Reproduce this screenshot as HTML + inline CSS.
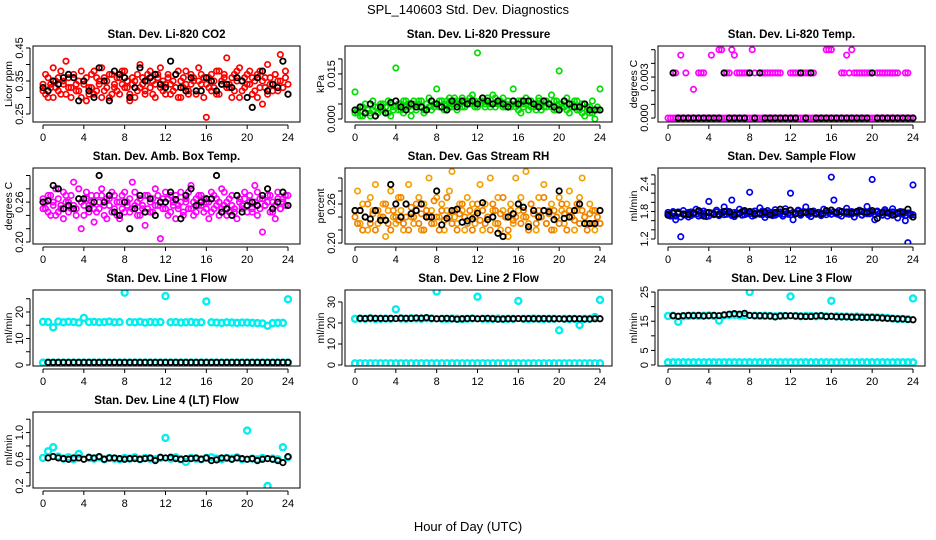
<!DOCTYPE html>
<html><head><meta charset="utf-8"><style>
html,body{margin:0;padding:0;background:#fff;}
svg{display:block;font-family:"Liberation Sans",sans-serif;}
</style></head><body>
<svg id="chart" width="936" height="540" viewBox="0 0 936 540">
<text x="468" y="14" text-anchor="middle" font-size="13">SPL_140603  Std. Dev. Diagnostics</text>
<text x="468" y="531" text-anchor="middle" font-size="13">Hour of Day (UTC)</text>
</svg>
<script>
const xTicks=[0,4,8,12,16,20,24];
const co2=[0.32,0.37,0.30,0.34,0.39,0.33,0.36,0.31,0.35,0.41,0.33,0.30,0.36,0.34,0.32,0.38,0.35,0.29,0.33,0.37,0.31,0.36,0.34,0.39,0.32,0.35,0.30,0.37,0.33,0.36,0.31,0.34,0.38,0.33,0.29,0.36,0.35,0.32,0.40,0.34,0.31,0.37,0.33,0.35,0.30,0.36,0.39,0.32,0.34,0.37,0.31,0.35,0.33,0.38,0.30,0.36,0.34,0.32,0.37,0.35,0.31,0.39,0.34,0.36,0.24,0.33,0.37,0.35,0.31,0.38,0.34,0.36,0.42,0.33,0.30,0.37,0.35,0.39,0.32,0.36,0.34,0.38,0.31,0.35,0.37,0.33,0.28,0.36,0.40,0.34,0.32,0.37,0.35,0.43,0.33,0.38,0.31];
const co2B=[0.34,0.31,0.36,0.33,0.30,0.35,0.32,0.38,0.34,0.31,0.36,0.33,0.37,0.32,0.35,0.30,0.34,0.36,0.31,0.33,0.38,0.32,0.35,0.30,0.36,0.33,0.37,0.31,0.34,0.32,0.36,0.38,0.33,0.35,0.31,0.34,0.30,0.37,0.33,0.36,0.32,0.35,0.38,0.31,0.34,0.37,0.33,0.35,0.31,0.36,0.34,0.32,0.37,0.30,0.35,0.33,0.38,0.31,0.34,0.36,0.32,0.35,0.37,0.30,0.34,0.36,0.32,0.33,0.38,0.31,0.35,0.37,0.33,0.34,0.36,0.32,0.38,0.30,0.35,0.33,0.37,0.34,0.36,0.32,0.30,0.38,0.35,0.33,0.31,0.36,0.34,0.37,0.32,0.35,0.33,0.36,0.34];
const co2Ref=[0.33,0.32,0.35,0.34,0.36,0.37,0.36,0.29,0.35,0.32,0.30,0.39,0.35,0.29,0.38,0.37,0.36,0.30,0.33,0.39,0.35,0.36,0.37,0.34,0.33,0.41,0.37,0.33,0.32,0.36,0.32,0.32,0.36,0.35,0.32,0.34,0.34,0.33,0.36,0.35,0.30,0.27,0.36,0.38,0.32,0.34,0.33,0.41,0.31];
const pressure=[0.009,0.002,0.004,0.001,0.005,0.003,0.002,0.006,0.001,0.004,0.003,0.005,0.002,0.006,0.001,0.004,0.017,0.003,0.005,0.002,0.006,0.004,0.001,0.005,0.003,0.006,0.004,0.002,0.005,0.007,0.003,0.005,0.010,0.004,0.006,0.003,0.005,0.007,0.004,0.006,0.003,0.005,0.007,0.004,0.006,0.005,0.008,0.004,0.022,0.005,0.006,0.004,0.007,0.005,0.008,0.004,0.006,0.005,0.007,0.004,0.006,0.005,0.010,0.004,0.006,0.002,0.005,0.007,0.003,0.006,0.004,0.005,0.007,0.003,0.006,0.004,0.005,0.008,0.003,0.006,0.016,0.005,0.004,0.007,0.002,0.005,0.004,0.006,0.003,0.005,0.001,0.004,0.002,0.006,0.000,0.003,0.010];
const pressureB=[0.002,0.003,0.001,0.004,0.002,0.003,0.001,0.003,0.004,0.002,0.005,0.003,0.004,0.002,0.005,0.003,0.004,0.005,0.003,0.006,0.004,0.005,0.003,0.006,0.004,0.005,0.006,0.003,0.005,0.004,0.006,0.004,0.005,0.006,0.004,0.005,0.006,0.004,0.005,0.007,0.005,0.006,0.004,0.006,0.005,0.007,0.005,0.006,0.004,0.006,0.007,0.005,0.006,0.004,0.005,0.007,0.005,0.006,0.004,0.005,0.006,0.004,0.006,0.005,0.003,0.006,0.004,0.005,0.006,0.004,0.005,0.003,0.006,0.005,0.004,0.006,0.005,0.004,0.006,0.003,0.005,0.004,0.006,0.003,0.005,0.004,0.006,0.003,0.004,0.002,0.005,0.003,0.004,0.002,0.003,0.004,0.003];
const pressureRef=[0.003,0.004,0.002,0.005,0.001,0.004,0.002,0.0055,0.006,0.004,0.003,0.005,0.004,0.004,0.003,0.006,0.005,0.004,0.003,0.006,0.004,0.006,0.005,0.006,0.005,0.007,0.006,0.005,0.006,0.005,0.004,0.006,0.005,0.006,0.006,0.005,0.004,0.006,0.005,0.004,0.003,0.006,0.005,0.004,0.004,0.005,0.003,0.003,0.003];
const tempHi=[null,null,.0033,.0033,null,.0046,null,.0033,null,null,.0021,null,.0033,.0033,.0033,null,null,.0046,null,null,.005,.005,.0033,.0033,.0033,.005,.0046,.0033,.0033,.0033,.0033,.0033,.0033,.005,.0033,null,.0033,.0033,.0033,.0033,.0033,.0033,.0033,.0033,.0033,null,null,null,.0033,.0033,.0033,.0033,.0033,.0033,.0033,.0033,.0033,.0033,null,null,null,null,.005,.005,.005,null,null,null,.0033,.0033,.0046,.0033,.005,.0033,.0033,.0033,.0033,.0033,.0033,.0033,.0033,null,.0033,.0033,.0033,.0033,.0033,.0033,.0033,.0033,.0033,null,null,.0033,.0033,null,null];
const tempLo=[0,0,0,0,0,0,0,0,0,0,0,0,0,0,0,0,0,0,0,0,0,0,0,0,0,0,0,0,0,0,0,0,0,0,0,0,0,0,0,0,0,0,0,0,0,0,0,0,0,0,0,0,0,0,0,0,0,0,0,0,0,0,0,0,0,0,0,0,0,0,0,0,0,0,0,0,0,0,0,0,0,0,0,0,0,0,0,0,0,0,0,0,0,0,0,0,0];
const tempRef=[null,.0033,0,0,0,0,0,0,0,0,0,.0033,0,0,0,0,.0033,0,.0033,0,0,0,0,0,0,0,.0033,0,.0033,0,0,0,0,0,0,0,0,0,0,0,.0033,0,0,0,0,0,0,0,0];
const amb=[0.265,0.25,0.27,0.24,0.26,0.28,0.245,0.255,0.235,0.27,0.26,0.25,0.29,0.24,0.265,0.22,0.255,0.275,0.245,0.26,0.23,0.27,0.25,0.28,0.24,0.265,0.255,0.245,0.27,0.26,0.235,0.25,0.275,0.26,0.245,0.29,0.255,0.24,0.265,0.25,0.225,0.27,0.26,0.245,0.28,0.255,0.205,0.265,0.25,0.24,0.27,0.26,0.235,0.255,0.275,0.245,0.26,0.25,0.285,0.24,0.265,0.255,0.27,0.245,0.26,0.235,0.275,0.25,0.265,0.24,0.28,0.255,0.26,0.245,0.27,0.25,0.235,0.265,0.255,0.275,0.245,0.26,0.25,0.285,0.24,0.265,0.215,0.255,0.27,0.245,0.26,0.235,0.275,0.25,0.265,0.255,0.27];
const ambB=[0.25,0.26,0.245,0.27,0.255,0.24,0.265,0.25,0.275,0.26,0.245,0.27,0.255,0.25,0.28,0.26,0.24,0.265,0.255,0.27,0.25,0.245,0.26,0.27,0.255,0.235,0.265,0.275,0.25,0.24,0.26,0.27,0.245,0.255,0.265,0.25,0.275,0.26,0.24,0.255,0.27,0.25,0.245,0.265,0.255,0.27,0.26,0.25,0.275,0.265,0.245,0.255,0.27,0.25,0.26,0.24,0.265,0.275,0.25,0.26,0.245,0.27,0.255,0.265,0.25,0.26,0.245,0.27,0.255,0.26,0.25,0.275,0.24,0.265,0.255,0.245,0.27,0.26,0.25,0.265,0.255,0.27,0.245,0.26,0.275,0.25,0.265,0.255,0.26,0.27,0.245,0.255,0.265,0.25,0.26,0.27,0.255];
const ambRef=[0.26,0.262,0.285,0.28,0.25,0.255,0.25,0.265,0.265,0.25,0.26,0.30,0.26,0.27,0.245,0.24,0.26,0.22,0.25,0.27,0.245,0.265,0.24,0.26,0.26,0.275,0.264,0.235,0.27,0.28,0.255,0.26,0.265,0.265,0.30,0.245,0.25,0.24,0.27,0.245,0.255,0.26,0.255,0.27,0.28,0.25,0.26,0.275,0.255];
const rh=[0.25,0.28,0.23,0.26,0.24,0.22,0.27,0.25,0.29,0.23,0.24,0.26,0.21,0.25,0.28,0.24,0.23,0.27,0.25,0.22,0.26,0.29,0.24,0.23,0.25,0.27,0.22,0.26,0.24,0.30,0.25,0.23,0.27,0.24,0.26,0.22,0.25,0.28,0.31,0.24,0.23,0.26,0.25,0.22,0.27,0.24,0.26,0.23,0.25,0.29,0.22,0.26,0.24,0.30,0.25,0.23,0.27,0.22,0.25,0.24,0.21,0.26,0.23,0.30,0.25,0.27,0.24,0.31,0.23,0.26,0.25,0.22,0.27,0.24,0.29,0.23,0.25,0.26,0.22,0.24,0.27,0.25,0.23,0.26,0.28,0.24,0.22,0.25,0.27,0.30,0.24,0.23,0.26,0.25,0.22,0.24,0.23];
const rhB=[0.24,0.23,0.25,0.22,0.24,0.26,0.23,0.245,0.22,0.25,0.235,0.24,0.26,0.23,0.22,0.25,0.24,0.235,0.27,0.23,0.24,0.22,0.255,0.24,0.26,0.23,0.245,0.22,0.25,0.24,0.23,0.265,0.24,0.22,0.25,0.235,0.27,0.24,0.23,0.25,0.22,0.245,0.26,0.24,0.23,0.25,0.22,0.24,0.26,0.235,0.25,0.23,0.24,0.22,0.26,0.25,0.23,0.245,0.27,0.24,0.22,0.25,0.235,0.24,0.26,0.23,0.25,0.24,0.22,0.26,0.245,0.23,0.25,0.24,0.27,0.23,0.245,0.22,0.25,0.24,0.23,0.26,0.245,0.22,0.25,0.24,0.235,0.26,0.23,0.25,0.24,0.22,0.245,0.23,0.25,0.24,0.23];
const rhRef=[0.25,0.25,0.24,0.237,0.25,0.235,0.235,0.29,0.26,0.24,0.26,0.245,0.25,0.26,0.24,0.24,0.28,0.228,0.238,0.25,0.252,0.232,0.234,0.237,0.246,0.262,0.236,0.24,0.215,0.21,0.24,0.245,0.26,0.255,0.225,0.25,0.24,0.25,0.248,0.236,0.28,0.238,0.24,0.25,0.26,0.23,0.23,0.23,0.25];
const flow=[1.78,1.70,1.80,1.62,1.75,1.25,1.82,1.72,1.68,1.79,1.74,1.85,1.70,1.77,1.81,1.69,2.02,1.76,1.73,1.83,1.71,1.78,1.90,1.74,1.80,2.05,1.69,1.77,1.85,1.72,1.79,1.75,2.22,1.70,1.81,1.76,1.88,1.73,1.67,1.82,1.78,1.71,1.84,1.75,1.79,1.70,1.86,1.74,2.20,1.62,1.77,1.83,1.72,1.80,1.90,1.76,1.69,1.81,1.74,1.78,1.71,1.85,1.73,1.79,2.55,2.05,1.75,1.82,1.70,1.78,1.87,1.74,1.80,1.68,1.77,1.83,1.72,1.79,1.91,1.75,2.50,1.62,1.81,1.76,1.73,1.84,1.70,1.78,1.86,1.74,1.66,1.80,1.77,1.60,1.12,1.72,2.38];
const flowB=[1.74,1.72,1.77,1.70,1.79,1.68,1.75,1.73,1.78,1.71,1.76,1.74,1.80,1.72,1.75,1.78,1.70,1.77,1.74,1.79,1.72,1.76,1.73,1.81,1.75,1.71,1.78,1.74,1.76,1.80,1.73,1.77,1.75,1.79,1.72,1.76,1.74,1.81,1.77,1.73,1.78,1.75,1.72,1.79,1.76,1.74,1.80,1.77,1.73,1.78,1.75,1.81,1.74,1.77,1.79,1.73,1.76,1.80,1.75,1.78,1.74,1.76,1.81,1.77,1.74,1.79,1.76,1.73,1.80,1.77,1.75,1.79,1.74,1.78,1.76,1.81,1.73,1.77,1.75,1.80,1.78,1.74,1.79,1.76,1.72,1.80,1.77,1.75,1.79,1.73,1.78,1.76,1.74,1.71,1.77,1.75,1.73];
const flowRef=[1.72,1.76,1.77,1.74,1.74,1.77,1.82,1.70,1.78,1.75,1.74,1.80,1.79,1.73,1.76,1.82,1.80,1.75,1.76,1.79,1.73,1.78,1.85,1.80,1.83,1.75,1.77,1.78,1.80,1.76,1.75,1.82,1.83,1.78,1.80,1.79,1.77,1.80,1.80,1.78,1.82,1.65,1.78,1.77,1.72,1.76,1.79,1.85,1.68];
const line1Hi=[16.3,16.2,14.2,16.4,16.1,16.3,16.2,16.0,17.8,16.2,16.3,16.1,16.2,16.4,16.1,16.2,27.3,16.2,16.1,16.3,16.0,16.2,16.1,16.2,26.0,16.1,16.2,16.0,16.1,16.2,16.0,16.1,24.0,16.1,16.0,15.9,16.1,16.0,15.9,16.0,16.0,15.9,15.8,15.7,14.8,15.8,15.9,15.9,24.8];
const line1Lo=[0.9,0.9,0.9,0.9,0.9,0.9,0.9,0.9,0.9,0.9,0.9,0.9,0.9,0.9,0.9,0.9,0.9,0.9,0.9,0.9,0.9,0.9,0.9,0.9,0.9,0.9,0.9,0.9,0.9,0.9,0.9,0.9,0.9,0.9,0.9,0.9,0.9,0.9,0.9,0.9,0.9,0.9,0.9,0.9,0.9,0.9,0.9,0.9,0.9];
const line1Ref=[null,1.0,1.0,1.0,1.0,1.0,1.0,1.0,1.0,1.0,1.0,1.0,1.0,1.0,1.0,1.0,1.0,1.0,1.0,1.0,1.0,1.0,1.0,1.0,1.0,1.0,1.0,1.0,1.0,1.0,1.0,1.0,1.0,1.0,1.0,1.0,1.0,1.0,1.0,1.0,1.0,1.0,1.0,1.0,1.0,1.0,1.0,1.0,1.0];
const line2Hi=[22.0,22.1,22.0,22.2,21.9,22.0,22.1,22.0,26.5,22.1,22.0,22.2,22.1,22.0,22.3,22.1,35.0,22.0,21.9,22.1,22.0,21.8,22.0,22.1,32.5,22.0,21.9,22.0,22.1,21.9,22.0,22.0,30.5,22.0,21.9,22.1,22.0,21.9,22.0,22.0,16.5,22.0,21.9,22.0,19.0,22.0,22.0,22.8,31.0];
const line2Lo=[0.8,0.8,0.8,0.8,0.8,0.8,0.8,0.8,0.8,0.8,0.8,0.8,0.8,0.8,0.8,0.8,0.8,0.8,0.8,0.8,0.8,0.8,0.8,0.8,0.8,0.8,0.8,0.8,0.8,0.8,0.8,0.8,0.8,0.8,0.8,0.8,0.8,0.8,0.8,0.8,0.8,0.8,0.8,0.8,0.8,0.8,0.8,0.8,0.8];
const line2Ref=[null,22.2,22.1,22.3,22.2,22.2,22.1,22.2,22.1,22.3,22.2,22.2,22.4,22.3,22.5,22.2,22.0,22.1,22.2,22.0,21.8,22.0,22.1,22.2,22.0,22.1,22.2,22.0,21.8,21.9,22.0,22.0,22.1,22.0,22.1,22.0,22.0,22.1,22.0,22.0,22.0,21.9,22.0,22.0,22.0,21.9,21.9,22.0,22.0];
const line3Hi=[16.8,16.9,14.8,16.7,16.8,16.9,16.8,16.9,17.0,16.8,15.2,17.0,17.1,17.2,17.0,16.9,25.0,16.9,16.8,16.9,16.8,16.7,16.8,16.8,23.5,16.8,16.7,16.8,16.8,16.7,16.8,16.7,22.0,16.7,16.6,16.6,16.5,16.6,16.5,16.4,16.4,16.3,16.2,16.1,15.9,15.8,15.8,15.7,22.8];
const line3Lo=[0.9,0.9,0.9,0.9,0.9,0.9,0.9,0.9,0.9,0.9,0.9,0.9,0.9,0.9,0.9,0.9,0.9,0.9,0.9,0.9,0.9,0.9,0.9,0.9,0.9,0.9,0.9,0.9,0.9,0.9,0.9,0.9,0.9,0.9,0.9,0.9,0.9,0.9,0.9,0.9,0.9,0.9,0.9,0.9,0.9,0.9,0.9,0.9,0.9];
const line3Ref=[null,16.9,16.7,16.9,17.0,16.9,17.0,16.8,16.9,17.0,16.9,17.2,17.4,17.6,17.4,17.7,17.0,16.9,16.9,16.8,16.8,16.5,16.8,16.9,16.9,16.8,16.7,16.6,16.6,16.8,16.9,16.6,16.7,16.5,16.5,16.5,16.4,16.4,16.3,16.3,16.3,16.2,16.1,16.0,15.9,15.8,15.8,15.6,15.5];
const line4Hi=[0.62,0.72,0.78,0.64,0.61,0.63,0.60,0.68,1.37,0.62,0.61,0.63,0.60,0.62,0.61,0.60,0.62,0.61,0.63,0.60,0.62,0.61,0.60,0.62,0.92,0.61,0.63,0.60,0.56,0.62,0.61,0.60,0.62,0.63,0.61,0.60,0.62,0.61,0.63,0.60,1.03,0.61,0.60,0.62,0.20,0.61,0.60,0.78,0.63];
const line4Ref=[null,0.62,0.64,0.62,0.61,0.60,0.62,0.62,0.60,0.63,0.62,0.64,0.60,0.62,0.62,0.61,0.60,0.61,0.61,0.60,0.61,0.62,0.58,0.63,0.62,0.63,0.61,0.60,0.61,0.61,0.62,0.60,0.62,0.58,0.59,0.62,0.62,0.60,0.62,0.61,0.60,0.61,0.58,0.60,0.61,0.60,0.58,0.55,0.64];
const p1Ticks=[0.25,0.30,0.35,0.40,0.45], p1Labels=["0.25","","0.35","","0.45"];
const p2Ticks=[0,0.005,0.010,0.015,0.020], p2Labels=["0.000","","","0.015",""];
const p3Ticks=[0,0.001,0.002,0.003,0.004,0.005], p3Labels=["0.000","","","0.003","",""];
const p4Ticks=[0.20,0.22,0.24,0.26,0.28,0.30], p4Labels=["0.20","","","0.26","",""];
const p5Ticks=[0.20,0.22,0.24,0.26,0.28,0.30], p5Labels=["0.20","","","0.26","",""];
const p6Ticks=[1.2,1.4,1.6,1.8,2.0,2.2,2.4,2.6], p6Labels=["1.2","","","1.8","","","2.4",""];
const p7Ticks=[0,5,10,15,20,25], p7Labels=["0","","10","","20",""];
const p8Ticks=[0,10,20,30], p8Labels=["0","10","20","30"];
const p9Ticks=[0,5,10,15,20,25], p9Labels=["0","5","","15","","25"];
const p10Ticks=[0.2,0.4,0.6,0.8,1.0,1.2], p10Labels=["0.2","","0.6","","1.0",""];

const svg=document.getElementById('chart');
const NS='http://www.w3.org/2000/svg';
function mk(tag,attrs,parent){const e=document.createElementNS(NS,tag);for(const k in attrs)e.setAttribute(k,attrs[k]);(parent||svg).appendChild(e);return e;}
const COLS=[33,345,658], ROWS=[46,168,290,412], W=267, H=76;
const panels=[
 {key:'co2',title:'Stan. Dev. Li-820 CO2',ylab:'Licor ppm',c:0,r:0,dom:[0.2258,0.456],ticks:p1Ticks,labels:p1Labels,series:[[co2,'#ff0000'],[co2B,'#ff0000'],[co2Ref,'#000']]},
 {key:'pressure',title:'Stan. Dev. Li-820 Pressure',ylab:'kPa',c:1,r:0,dom:[-0.001,0.0243],ticks:p2Ticks,labels:p2Labels,series:[[pressure,'#00dd00'],[pressureB,'#00dd00'],[pressureRef,'#000']]},
 {key:'temp',title:'Stan. Dev. Li-820 Temp.',ylab:'degrees C',c:2,r:0,dom:[-0.00029,0.00527],ticks:p3Ticks,labels:p3Labels,series:[[tempLo,'#ff00ff'],[tempHi,'#ff00ff'],[tempRef,'#000']]},
 {key:'ambtemp',title:'Stan. Dev. Amb. Box Temp.',ylab:'degrees C',c:0,r:1,dom:[0.197,0.3113],ticks:p4Ticks,labels:p4Labels,series:[[amb,'#ff00ff'],[ambB,'#ff00ff'],[ambRef,'#000']]},
 {key:'rh',title:'Stan. Dev. Gas Stream RH',ylab:'percent',c:1,r:1,dom:[0.1985,0.3154],ticks:p5Ticks,labels:p5Labels,series:[[rh,'#f5a000'],[rhB,'#f08000'],[rhRef,'#000']]},
 {key:'sampleflow',title:'Stan. Dev. Sample Flow',ylab:'ml/min',c:2,r:1,dom:[1.091,2.75],ticks:p6Ticks,labels:p6Labels,series:[[flow,'#0000ee'],[flowB,'#0000ee'],[flowRef,'#000']]},
 {key:'line1',title:'Stan. Dev. Line 1 Flow',ylab:'ml/min',c:0,r:2,dom:[-0.377,28.3],ticks:p7Ticks,labels:p7Labels,series:[[line1Hi,'#00eeee'],[line1Lo,'#00eeee'],[line1Ref,'#000']]},
 {key:'line2',title:'Stan. Dev. Line 2 Flow',ylab:'ml/min',c:1,r:2,dom:[-0.476,35.7],ticks:p8Ticks,labels:p8Labels,series:[[line2Hi,'#00eeee'],[line2Lo,'#00eeee'],[line2Ref,'#000']]},
 {key:'line3',title:'Stan. Dev. Line 3 Flow',ylab:'ml/min',c:2,r:2,dom:[-0.34,25.7],ticks:p9Ticks,labels:p9Labels,series:[[line3Hi,'#00eeee'],[line3Lo,'#00eeee'],[line3Ref,'#000']]},
 {key:'line4',title:'Stan. Dev. Line 4 (LT) Flow',ylab:'ml/min',c:0,r:3,dom:[0.17,1.308],ticks:p10Ticks,labels:p10Labels,series:[[line4Hi,'#00eeee'],[line4Ref,'#000']]}
];
panels.forEach(p=>{
 const L=COLS[p.c], T=ROWS[p.r], B=T+H, R=L+W;
 const xs=h=>L+10+h/24*(W-22);
 const ys=v=>B-(v-p.dom[0])/(p.dom[1]-p.dom[0])*H;
 const g=mk('g',{});
 
 
 const t=mk('text',{x:(L+R)/2,y:T-8,'text-anchor':'middle','font-size':11.5,'font-weight':'bold'},g);
 t.textContent=p.title;
 
 
 const yl=mk('text',{transform:`translate(${L-21},${(T+B)/2}) rotate(-90)`,'text-anchor':'middle','font-size':10.5},g);
 yl.textContent=p.ylab;
 
 
 const xa=mk('g',{},g);
 
 
 mk('line',{x1:xs(0),x2:xs(24),y1:B+3,y2:B+3,stroke:'#000'},xa);
 xTicks.forEach(h=>{
  mk('line',{x1:xs(h),x2:xs(h),y1:B+3,y2:B+7,stroke:'#000'},xa);
  const tl=mk('text',{x:xs(h),y:B+19,'text-anchor':'middle','font-size':11},xa);
  tl.textContent=h;
 });
 const ya=mk('g',{},g);
 
 
 mk('line',{x1:L-3,x2:L-3,y1:ys(p.ticks[0]),y2:ys(p.ticks[p.ticks.length-1]),stroke:'#000'},ya);
 p.ticks.forEach((v,i)=>{
  mk('line',{x1:L-7,x2:L-3,y1:ys(v),y2:ys(v),stroke:'#000'},ya);
  if(p.labels[i]){const tl=mk('text',{transform:`translate(${L-10},${ys(v)}) rotate(-90)`,'text-anchor':'middle','font-size':11},ya);tl.textContent=p.labels[i];}
 });
 const pg=mk('g',{},g);
 
 
 const clip='clip-'+p.key;
 const cp=mk('clipPath',{id:clip},g);
 mk('rect',{x:L,y:T,width:W,height:H},cp);
 pg.setAttribute('clip-path',`url(#${clip})`);
 p.series.forEach(([arr,col])=>{
  const n=arr.length;
  const cyan=col==='#00eeee';
  arr.forEach((v,i)=>{
   if(v===null)return;
   const c=mk('circle',{cx:xs(i*24/(n-1)),cy:ys(v),r:cyan?3:2.7,fill:'none',stroke:col,'stroke-width':col==='#000'?1.8:(cyan?2.4:1.7)},pg);
   
   
  });
 });
 const bx=mk('rect',{x:L,y:T,width:W,height:H,fill:'none',stroke:'#000','stroke-width':1},g);
 
 
});
</script>
</body></html>
